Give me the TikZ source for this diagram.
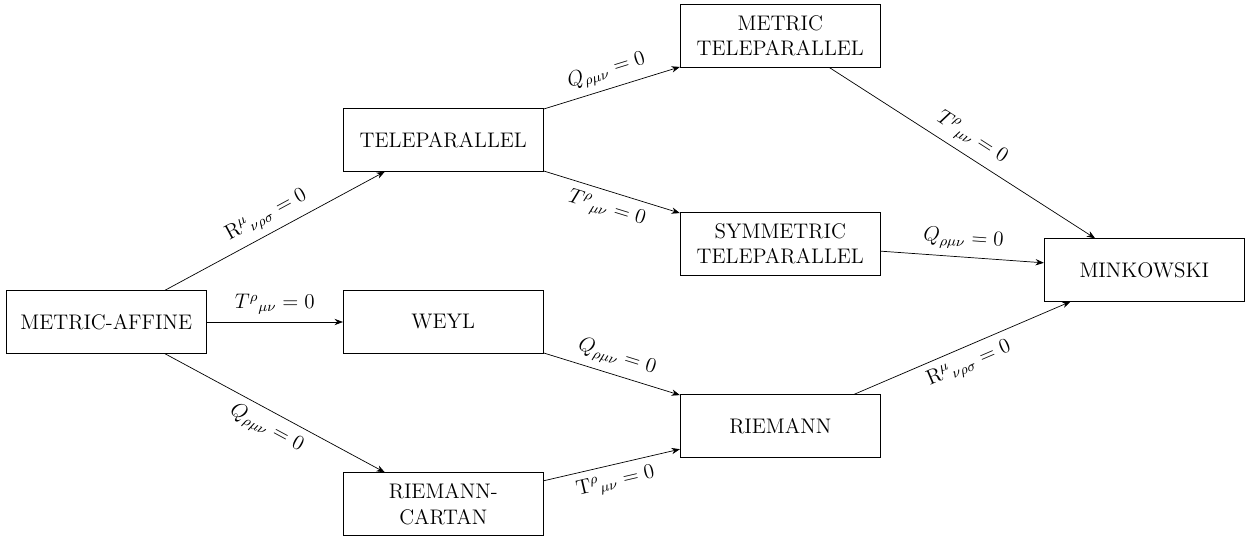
\documentclass[tikz,border=0pt,12pt]{standalone}
\usepackage{tikz}
\usetikzlibrary{arrows.meta}

\begin{document}
\begin{tikzpicture}[
    geombox/.style={draw, minimum width=4cm, minimum height=1.25cm, align=center},
    relax/.style={-{Stealth}},
  ]
  \useasboundingbox (-2.126,-4.26) rectangle (22.774,6.44);

  % geometries
  \node[geombox] (affine) at (0,0) {METRIC-AFFINE};
  \node[geombox] (telepar) at (6.74,3.64) {TELEPARALLEL};
  \node[geombox] (weyl) at (6.74,0) {WEYL};
  \node[geombox] (cartan) at (6.74,-3.64) {RIEMANN-\\CARTAN};
  \node[geombox] (mtele) at (13.48,5.72) {METRIC\\TELEPARALLEL};
  \node[geombox] (stele) at (13.48,1.56) {SYMMETRIC\\TELEPARALLEL};
  \node[geombox] (riemann) at (13.48,-2.08) {RIEMANN};
  \node[geombox] (mink) at (20.76,1.04) {MINKOWSKI};

  % conditions
  \draw[relax] (affine) -- node[above, sloped] {$\mathrm{R}^{\mu}{}_{\nu\rho\sigma} = 0$} (telepar);
  \draw[relax] (affine) -- node[above] {$T^{\rho}{}_{\mu\nu} = 0$} (weyl);
  \draw[relax] (affine) -- node[below, sloped] {$Q_{\rho\mu\nu} = 0$} (cartan);
  \draw[relax] (telepar) -- node[above, sloped] {$Q_{\rho\mu\nu} = 0$} (mtele);
  \draw[relax] (telepar) -- node[below, sloped] {$T^{\rho}{}_{\mu\nu} = 0$} (stele);
  \draw[relax] (weyl) -- node[above, sloped] {$Q_{\rho\mu\nu} = 0$} (riemann);
  \draw[relax] (cartan) -- node[below, sloped] {$\mathrm{T}^{\rho}{}_{\mu\nu} = 0$} (riemann);
  \draw[relax] (mtele) -- node[above, sloped] {$T^{\rho}{}_{\mu\nu} = 0$} (mink);
  \draw[relax] (stele) -- node[above, sloped] {$Q_{\rho\mu\nu} = 0$} (mink);
  \draw[relax] (riemann) -- node[below, sloped] {$\mathrm{R}^{\mu}{}_{\nu\rho\sigma} = 0$} (mink);
\end{tikzpicture}
\end{document}
